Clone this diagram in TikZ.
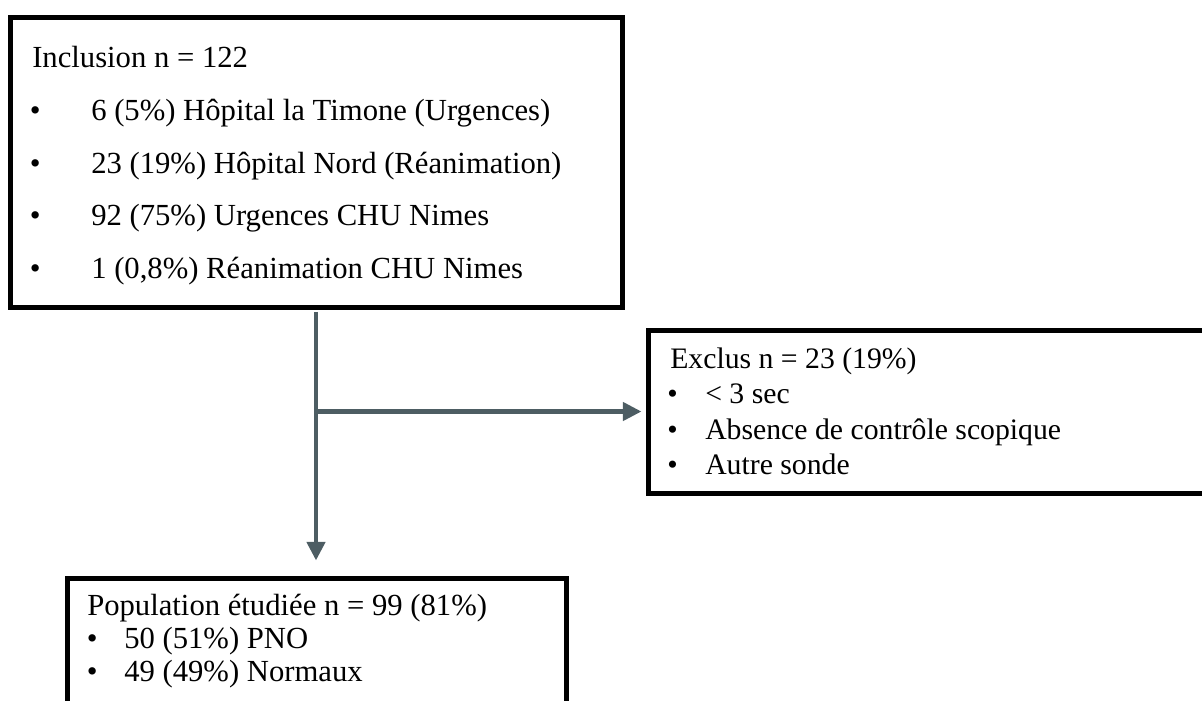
\documentclass[tikz,border=0pt]{standalone}
\usepackage{fontspec}
\setmainfont{Liberation Serif}
\usetikzlibrary{arrows.meta}
\definecolor{connc}{RGB}{77,93,99}
\begin{document}
\begin{tikzpicture}[x=0.75pt,y=-0.75pt,
  boxnode/.style={draw=black,line width=3.75pt,inner sep=0pt},
  txt/.style={anchor=base west,inner sep=0pt,font=\fontsize{23}{27}\selectfont},
  txtb/.style={anchor=base west,inner sep=0pt,font=\fontsize{22.3}{26}\selectfont},
  conn/.style={draw=connc,line width=3.4pt},
  arr/.style={-{Triangle[width=13.5pt,length=14pt]}}
]
\useasboundingbox (0,0) rectangle (1202,700);
\clip (0,0) rectangle (1202,700);
% boxes
\node[boxnode,minimum width=459pt,minimum height=217.5pt] (b1) at (316,162) {};
\node[boxnode,minimum width=425.25pt,minimum height=122.25pt] (b2) at (931.5,411.5) {};
\node[boxnode,minimum width=374.25pt,minimum height=102.75pt] (b3) at (316.5,646.5) {};
% connectors
\draw[conn,arr,shorten <=1.8pt,shorten >=11.25pt] (b1.south) -- (b1.south |- b3.north);
\coordinate (j) at (b1.south |- b2.west);
\draw[conn,arr,shorten >=3pt] (j) -- (b2.west);
% box 1 text
\node[txt] (t10) at (32,67) {Inclusion n = 122};
\node[txt] (u11) at (29.6,120) {•};
\node[txt] (t11) at (91,120) {6 (5\%) Hôpital la Timone (Urgences)};
\node[txt] (u12) at (29.6,173) {•};
\node[txt] (t12) at (91,173) {23 (19\%) Hôpital Nord (Réanimation)};
\node[txt] (u13) at (29.6,225) {•};
\node[txt] (t13) at (91,225) {92 (75\%) Urgences CHU Nimes};
\node[txt] (u14) at (29.6,278) {•};
\node[txt] (t14) at (91,278) {1 (0,8\%) Réanimation CHU Nimes};
% box 2 text
\node[txtb] (t20) at (670,368) {Exclus n = 23 (19\%)};
\node[txtb] (u21) at (667,403.5) {•};
\node[txtb] (t21) at (705,403.5) {< 3 sec};
\node[txtb] (u22) at (667,439) {•};
\node[txtb] (t22) at (705,439) {Absence de contrôle scopique};
\node[txtb] (u23) at (667,474.5) {•};
\node[txtb] (t23) at (705,474.5) {Autre sonde};
% box 3 text
\node[txt] (t30) at (87,615) {Population étudiée n = 99 (81\%)};
\node[txt] (u31) at (86.5,648) {•};
\node[txt] (t31) at (124,648) {50 (51\%) PNO};
\node[txt] (u32) at (86.5,681) {•};
\node[txt] (t32) at (124,681) {49 (49\%) Normaux};
\end{tikzpicture}
\end{document}
